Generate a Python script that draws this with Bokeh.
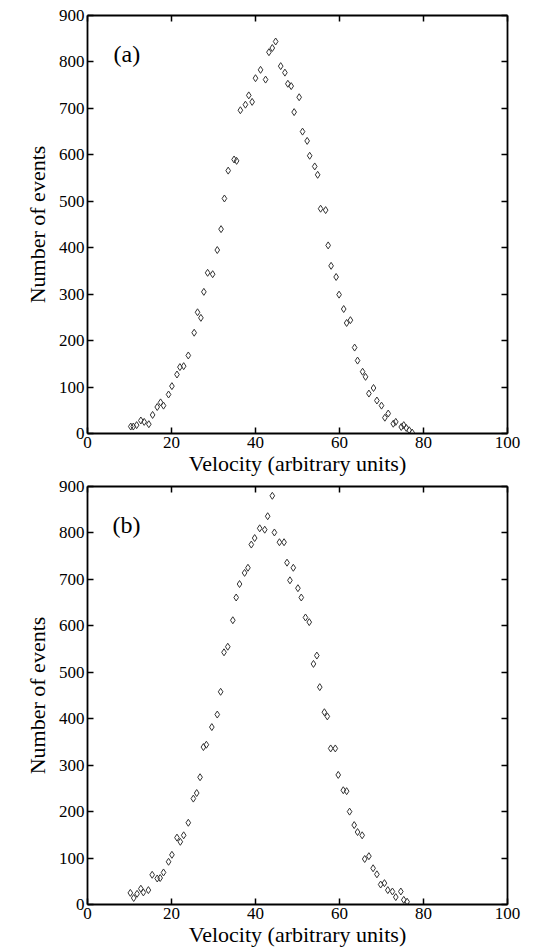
from bokeh.plotting import figure
from bokeh.models import LinearAxis, Label, FixedTicker
from bokeh.layouts import column
from bokeh.embed import file_html
from bokeh.resources import INLINE

# Panel (a): velocity histogram counts
vel_a = [10.3, 10.9, 11.7, 12.7, 13.5, 14.6, 15.5, 16.6, 17.4, 18.1, 19.3, 20.1,
         21.3, 22.0, 22.9, 24.0, 25.4, 26.2, 27.0, 27.7, 28.6, 29.8, 30.9, 31.8,
         32.6, 33.5, 34.9, 35.5, 36.4, 37.6, 38.4, 39.2, 40.0, 41.2, 42.4, 43.2,
         44.0, 44.8, 46.0, 47.0, 47.7, 48.5, 49.2, 50.4, 51.2, 52.3, 52.9, 54.1,
         54.8, 55.5, 56.7, 57.3, 58.0, 59.2, 59.9, 61.0, 61.7, 62.6, 63.6, 64.3,
         65.5, 66.2, 67.0, 68.1, 68.9, 70.0, 70.8, 71.6, 72.8, 73.4, 74.7, 75.3,
         75.9, 76.6, 77.3]
counts_a = [15, 15, 18, 28, 25, 20, 40, 57, 67, 60, 84, 102,
            127, 143, 145, 168, 217, 261, 249, 305, 346, 343, 395, 440,
            506, 566, 590, 587, 696, 708, 728, 714, 765, 783, 762, 821,
            830, 844, 791, 777, 753, 748, 692, 724, 650, 630, 598, 575,
            557, 484, 481, 405, 361, 337, 299, 268, 238, 244, 185, 157,
            133, 122, 86, 98, 71, 60, 34, 43, 21, 25, 14, 18,
            12, 7, 2]

# Panel (b): velocity histogram counts
vel_b = [10.2, 11.0, 11.8, 12.7, 13.3, 14.5, 15.4, 16.6, 17.3, 18.1, 19.3, 20.1,
         21.3, 22.1, 22.9, 24.0, 25.2, 26.0, 26.8, 27.6, 28.3, 29.6, 30.9, 31.7,
         32.5, 33.4, 34.6, 35.4, 36.2, 37.4, 38.2, 39.0, 39.8, 41.0, 42.2, 42.9,
         44.0, 44.5, 45.7, 46.8, 47.5, 48.2, 49.0, 50.1, 50.9, 51.9, 52.8, 53.8,
         54.6, 55.3, 56.4, 57.1, 57.9, 59.0, 59.7, 60.9, 61.7, 62.4, 63.5, 64.3,
         65.4, 66.0, 67.0, 68.0, 68.9, 69.8, 70.7, 71.5, 72.6, 73.4, 74.6, 75.3,
         76.1]
counts_b = [25, 14, 23, 34, 26, 31, 64, 56, 57, 69, 92, 107,
            144, 135, 149, 176, 228, 240, 274, 339, 344, 382, 409, 458,
            543, 555, 612, 661, 690, 714, 725, 775, 789, 810, 807, 836,
            880, 801, 780, 780, 736, 698, 725, 681, 661, 618, 608, 518,
            536, 468, 414, 405, 336, 336, 279, 246, 244, 200, 171, 156,
            149, 98, 104, 78, 65, 43, 46, 31, 28, 16, 28, 10,
            6]

x_ticks = [0, 20, 40, 60, 80, 100]
y_ticks = [0, 100, 200, 300, 400, 500, 600, 700, 800, 900]
x_title = "Velocity (arbitrary units)"
y_title = "Number of events"

FONT = "Liberation Serif"


def make_panel(xs, ys, tag, left, right, top, bottom, frame_h, tag_x):
    p = figure(frame_width=420, frame_height=frame_h,
               x_range=(0, 100), y_range=(0, 900),
               min_border_left=left, min_border_right=right,
               min_border_top=top, min_border_bottom=bottom,
               output_backend="svg", toolbar_location=None,
               background_fill_color="white", border_fill_color="white")
    p.grid.visible = False
    p.outline_line_color = None

    # tick-only axes along the top and right edges close the frame box
    p.add_layout(LinearAxis(), "above")
    p.add_layout(LinearAxis(), "right")

    p.xaxis.ticker = FixedTicker(ticks=x_ticks)
    p.yaxis.ticker = FixedTicker(ticks=y_ticks)

    p.axis.axis_line_color = "black"
    p.axis.axis_line_width = 1.8
    p.axis.major_tick_line_color = "black"
    p.axis.major_tick_line_width = 1.5
    p.axis.major_tick_in = 6
    p.axis.major_tick_out = 0
    p.axis.minor_tick_line_color = None
    p.axis.major_label_text_font = FONT
    p.axis.major_label_text_font_size = "17px"
    p.axis.major_label_text_color = "black"
    p.axis.major_label_standoff = 3
    p.axis.axis_label_text_font = FONT
    p.axis.axis_label_text_font_style = "normal"
    p.axis.axis_label_text_font_size = "22px"
    p.axis.axis_label_text_color = "black"

    below, left_ax = p.below[0], p.left[0]
    above, right_ax = p.above[0], p.right[0]
    below.axis_label = x_title
    left_ax.axis_label = y_title
    below.axis_label_standoff = 0
    left_ax.axis_label_standoff = 6
    above.major_label_overrides = {t: "" for t in x_ticks}
    right_ax.major_label_overrides = {t: "" for t in y_ticks}
    above.major_label_standoff = 0
    right_ax.major_label_standoff = 0

    p.scatter(xs, ys, marker="diamond", size=7, fill_color=None,
              line_color="#333333", line_width=1.0)

    p.add_layout(Label(x=tag_x, y=frame_h - 51, x_units="screen", y_units="screen",
                       text=tag, text_font=FONT, text_font_size="24px",
                       text_color="black"))
    return p


p1 = make_panel(vel_a, counts_a, "(a)", 87, 26, 15, 45, 418, 26)
p2 = make_panel(vel_b, counts_b, "(b)", 82, 31, 8, 48, 418, 25)

layout = column(p1, p2, spacing=0)
open("out.html", "w").write(file_html(layout, INLINE))
